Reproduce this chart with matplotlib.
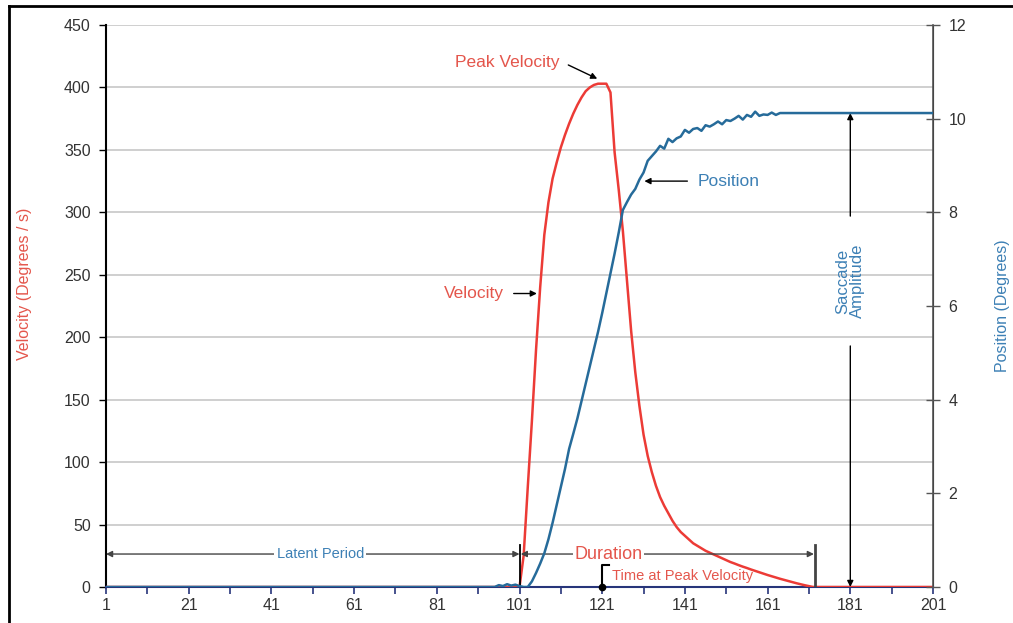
import matplotlib
matplotlib.use("Agg")
import matplotlib.pyplot as plt
from matplotlib.lines import Line2D

plt.rcParams['font.family'] = ['Liberation Sans', 'DejaVu Sans']

# sample index (ms)
time = list(range(1, 202))

# velocity (deg/s): flat before 101 and after 172
velocity_burst = [0, 25, 80, 133, 190, 240, 282, 308, 327, 340,
                  352, 362, 371, 379, 386, 392, 397, 400, 402, 403,
                  403, 403, 396, 348, 318, 285, 245, 205, 172, 145,
                  122, 105, 92, 81, 72, 65, 59, 53, 48, 44,
                  41, 38, 35, 33, 31, 29, 27.5, 26, 24.5, 23,
                  21.5, 20, 18.8, 17.5, 16.3, 15.2, 14, 12.9, 11.8, 10.7,
                  9.6, 8.6, 7.6, 6.6, 5.7, 4.8, 3.9, 3.0, 2.2, 1.4,
                  0.7, 0]
velocity = [0] * 100 + velocity_burst + [0] * 29

# position (deg)
position_pre = [0.04, 0.02, 0.06, 0.03, 0.05, 0.02, 0, 0]   # 96..103
position_move = [0.12, 0.3, 0.5, 0.72, 1.02, 1.37, 1.75, 2.12, 2.52, 2.95,
                 3.27, 3.6, 3.97, 4.33, 4.7, 5.08, 5.45, 5.85, 6.27, 6.7,
                 7.12, 7.57, 8.05, 8.22, 8.38, 8.5, 8.7, 8.85, 9.1, 9.2,
                 9.3, 9.42, 9.36, 9.57, 9.5, 9.58, 9.62, 9.76, 9.7, 9.78,
                 9.8, 9.74, 9.86, 9.83, 9.88, 9.94, 9.88, 9.97, 9.95, 10.0,
                 10.06, 9.98, 10.08, 10.04, 10.15, 10.06, 10.09, 10.08, 10.13, 10.08,
                 10.12]                                      # 104..164
position = [0] * 95 + position_pre + position_move + [10.12] * 37

x_ticks = list(range(1, 202, 20))
vel_ticks = list(range(0, 451, 50))
pos_ticks = list(range(0, 13, 2))

red = '#ec3b36'
red_txt = '#e4564c'
blue = '#266b9a'
blue_txt = '#3d80b5'

fig = plt.figure(figsize=(10.13, 6.23), dpi=100)
ax = fig.add_axes([106 / 1013, 1 - 587 / 623, 827 / 1013, 562 / 623])
ax2 = ax.twinx()

ax.plot(time, velocity, color=red, lw=1.8, zorder=3)
ax2.plot(time, position, color=blue, lw=1.8, zorder=3)

ax.set_xlim(1, 201)
ax.set_ylim(0, 450)
ax2.set_ylim(0, 12)
ax.set_xticks(x_ticks)
ax.set_xticks(list(range(11, 201, 20)), minor=True)
ax.set_yticks(vel_ticks)
ax2.set_yticks(pos_ticks)

ax.yaxis.grid(True, color='#cccccc', lw=1.3)
ax.set_axisbelow(True)

for a in (ax, ax2):
    a.spines['top'].set_visible(False)
ax.spines['left'].set_color('black')
ax.spines['left'].set_linewidth(1.5)
ax.spines['bottom'].set_color('#27357a')
ax.spines['bottom'].set_linewidth(1.5)
ax2.spines['right'].set_color('#555555')
ax2.spines['right'].set_linewidth(1.2)
ax2.spines['left'].set_visible(False)
ax2.spines['bottom'].set_visible(False)

ax.tick_params(axis='x', which='both', direction='out', length=5, width=1.2,
               color='#27357a', labelsize=11.5, labelcolor='#333333', pad=3)
ax.tick_params(axis='y', direction='out', length=5, width=1, labelsize=11.5,
               labelcolor='#333333', pad=6)
ax2.tick_params(axis='y', direction='inout', length=10, width=1, color='#555555',
                labelsize=11.5, labelcolor='#333333', pad=6)

ax.set_ylabel('Velocity (Degrees / s)', color=red_txt, fontsize=11.5)
ax.yaxis.set_label_coords(-0.09, 0.54)
ax2.set_ylabel('Position (Degrees)', color=blue_txt, fontsize=11.5)
ax2.yaxis.set_label_coords(1.075, 0.5)

arrow = dict(arrowstyle='-|>', color='black', lw=1, mutation_scale=9,
             shrinkA=0, shrinkB=0)
dbl = dict(arrowstyle='<|-|>', color='#444444', lw=1, mutation_scale=9,
           shrinkA=0, shrinkB=0)

# curve labels
ax.text(98, 420, 'Peak Velocity', color=red_txt, fontsize=12.5, ha='center', va='center')
ax.annotate('', xy=(119.8, 407), xytext=(112.8, 418), arrowprops=arrow)
ax.text(90, 235, 'Velocity', color=red_txt, fontsize=12.5, ha='center', va='center')
ax.annotate('', xy=(105.2, 235), xytext=(99.6, 235), arrowprops=arrow)
ax.text(151.5, 325, 'Position', color=blue_txt, fontsize=12.5, ha='center', va='center')
ax.annotate('', xy=(131.2, 325), xytext=(141.6, 325), arrowprops=arrow)

# saccade amplitude
ax.text(181, 245, 'Saccade\nAmplitude', color=blue_txt, fontsize=12, rotation=90,
        ha='center', va='center', linespacing=1.0)
ax.annotate('', xy=(181, 379.5), xytext=(181, 297), arrowprops=arrow)
ax.annotate('', xy=(181, 0), xytext=(181, 193), arrowprops=arrow)

# latent period / duration
ax.annotate('', xy=(1, 26.4), xytext=(101, 26.4), arrowprops=dbl, annotation_clip=False)
ax.text(52.8, 26.4, 'Latent Period', color=blue_txt, fontsize=10.5, ha='center',
        va='center', bbox=dict(facecolor='white', edgecolor='none', pad=1.5), zorder=4)
ax.plot([101, 101], [0, 34], color='black', lw=1.3, zorder=4)
ax.annotate('', xy=(101.3, 26.4), xytext=(172.2, 26.4), arrowprops=dbl)
ax.text(122.5, 26.4, 'Duration', color=red_txt, fontsize=13, ha='center',
        va='center', bbox=dict(facecolor='white', edgecolor='none', pad=1), zorder=4)
ax.plot([172.5, 172.5], [0, 34], color='#444444', lw=2, zorder=4)

# time at peak velocity
ax.plot([122.6, 121, 121], [17.5, 17.5, 0], color='black', lw=1.5, zorder=5)
ax.plot([121], [0], 'o', color='black', ms=4.5, zorder=6, clip_on=False)
ax.text(123.3, 8.5, 'Time at Peak Velocity', color=red_txt, fontsize=10.5,
        ha='left', va='center', zorder=5)

# frame round the figure
fig.add_artist(Line2D([9 / 1013, 9 / 1013], [0, 1 - 6 / 623], color='black', lw=2))
fig.add_artist(Line2D([9 / 1013, 1], [1 - 6 / 623, 1 - 6 / 623], color='black', lw=2))

fig.savefig('out.png', dpi=100)
